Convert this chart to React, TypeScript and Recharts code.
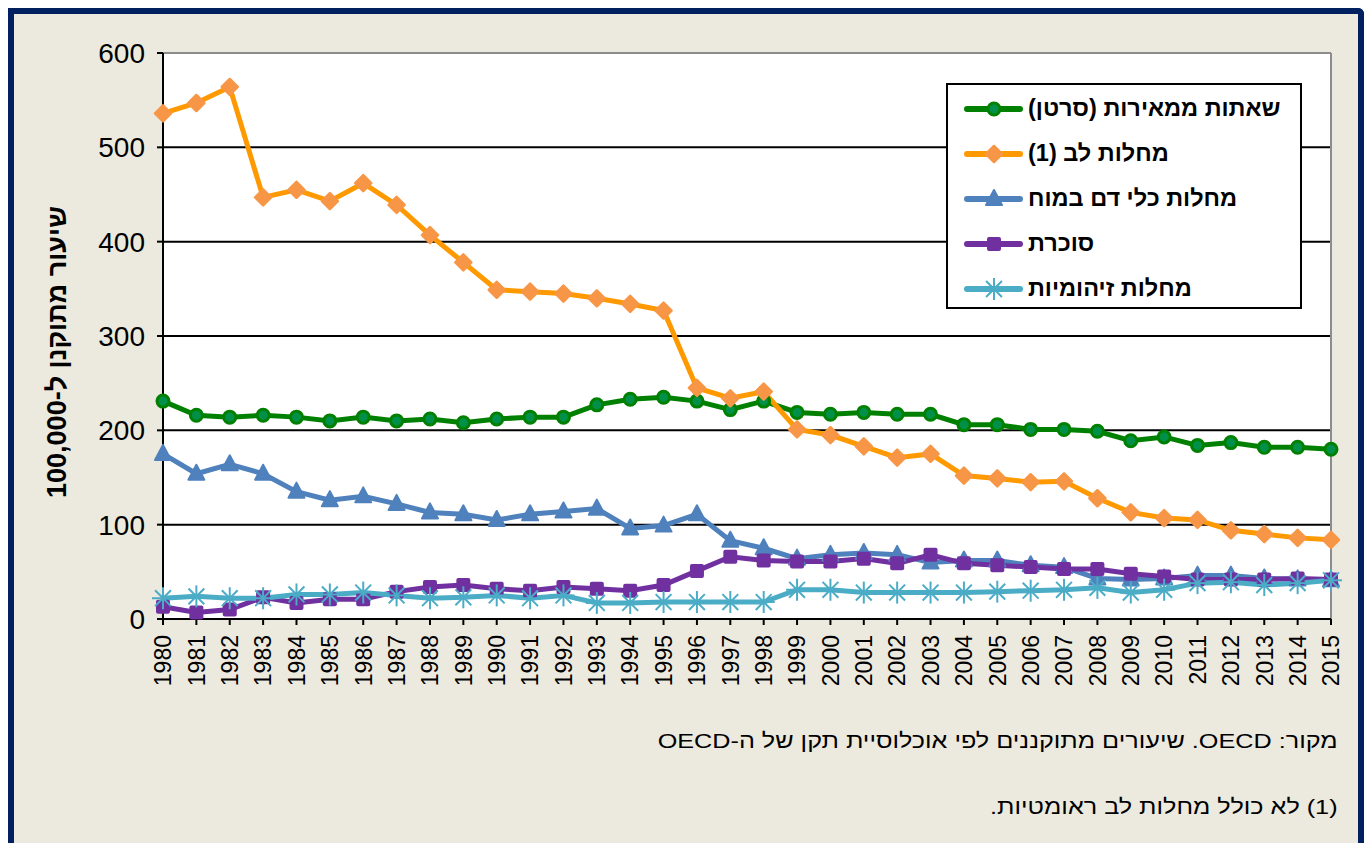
import React from "react";
import {
  LineChart, Line, XAxis, YAxis, CartesianGrid, Legend, ReferenceLine, Label,
} from "recharts";

const years = [
  "1980", "1981", "1982", "1983", "1984", "1985", "1986", "1987", "1988", "1989",
  "1990", "1991", "1992", "1993", "1994", "1995", "1996", "1997", "1998", "1999",
  "2000", "2001", "2002", "2003", "2004", "2005", "2006", "2007", "2008", "2009",
  "2010", "2011", "2012", "2013", "2014", "2015",
];

const cancer = [
  231, 216, 214, 216, 214, 210, 214, 210, 212, 208,
  212, 214, 214, 227, 233, 235, 231, 222, 231, 219,
  217, 219, 217, 217, 206, 206, 201, 201, 199, 189,
  193, 184, 187, 182, 182, 180,
];

const heart = [
  536, 547, 564, 447, 455, 443, 462, 439, 407, 378,
  349, 347, 345, 340, 334, 327, 245, 234, 241, 201,
  195, 183, 171, 175, 152, 149, 145, 146, 128, 113,
  107, 105, 94, 90, 86, 84,
];

const stroke = [
  175, 154, 164, 154, 135, 126, 130, 122, 113, 111,
  105, 111, 114, 117, 96, 99, 111, 83, 75, 64,
  68, 70, 68, 60, 62, 62, 57, 55, 43, 42,
  43, 46, 46, 43, 42, 41,
];

const diabetes = [
  13, 7, 10, 23, 17, 21, 21, 29, 34, 36,
  32, 30, 34, 32, 30, 36, 51, 66, 62, 61,
  61, 64, 59, 68, 59, 57, 55, 53, 53, 48,
  45, 42, 42, 42, 43, 42,
];

const infectious = [
  22, 24, 22, 22, 26, 26, 28, 25, 22, 23,
  25, 22, 25, 17, 17, 18, 18, 18, 18, 31,
  31, 28, 28, 28, 28, 29, 30, 31, 33, 28,
  31, 38, 39, 36, 38, 41,
];

const yTicks = [0, 100, 200, 300, 400, 500, 600];

const seriesNames = {
  cancer: "שאתות ממאירות (סרטן)",
  heart: "מחלות לב (1)",
  stroke: "מחלות כלי דם במוח",
  diabetes: "סוכרת",
  infectious: "מחלות זיהומיות",
};

const data = years.map((y, i) => ({
  year: y,
  cancer: cancer[i],
  heart: heart[i],
  stroke: stroke[i],
  diabetes: diabetes[i],
  infectious: infectious[i],
}));

const FONT = "Arial, 'Liberation Sans', sans-serif";

// marker shapes, drawn around (cx, cy)
function Circle({ cx, cy }: any) {
  return <circle cx={cx} cy={cy} r={6} fill="#00904A" stroke="#008000" strokeWidth={3} />;
}
function Diamond({ cx, cy }: any) {
  const s = 8;
  return (
    <polygon
      points={`${cx},${cy - s} ${cx + s},${cy} ${cx},${cy + s} ${cx - s},${cy}`}
      fill="#F79646" stroke="#F79646" strokeWidth={2.5} strokeLinejoin="round"
    />
  );
}
function Triangle({ cx, cy }: any) {
  return (
    <polygon
      points={`${cx},${cy - 9} ${cx + 8},${cy + 6} ${cx - 8},${cy + 6}`}
      fill="#4F81BD" stroke="#4F81BD" strokeWidth={2} strokeLinejoin="round"
    />
  );
}
function Square({ cx, cy }: any) {
  return <rect x={cx - 7} y={cy - 7} width={14} height={14} rx={2} fill="#7030A0" />;
}
function Star({ cx, cy }: any) {
  const r = 11;
  const d = r * 0.72;
  return (
    <g stroke="#4BACC6" strokeWidth={2}>
      <line x1={cx} y1={cy - r} x2={cx} y2={cy + r} />
      <line x1={cx - d} y1={cy - d} x2={cx + d} y2={cy + d} />
      <line x1={cx - d} y1={cy + d} x2={cx + d} y2={cy - d} />
      <line x1={cx - r} y1={cy} x2={cx + r} y2={cy} />
    </g>
  );
}

const dotFor = (Shape: any) => (props: any) => {
  const { cx, cy, index } = props;
  if (cx == null || cy == null) return <g key={`d-${index}`} />;
  return <Shape key={`d-${index}`} cx={cx} cy={cy} />;
};

const legendItems = [
  { key: "cancer", color: "#008000", Shape: Circle },
  { key: "heart", color: "#FF9900", Shape: Diamond },
  { key: "stroke", color: "#4F81BD", Shape: Triangle },
  { key: "diabetes", color: "#7030A0", Shape: Square },
  { key: "infectious", color: "#4BACC6", Shape: Star },
];

function LegendBox() {
  return (
    <div
      style={{
        width: 352,
        height: 221,
        border: "2px solid #000",
        background: "#fff",
        paddingTop: 1,
        fontFamily: FONT,
        boxSizing: "content-box",
      }}
    >
      {legendItems.map(({ key, color, Shape }) => (
        <div key={key} style={{ height: 45, display: "flex", alignItems: "center" }}>
          <svg width={80} height={30} style={{ flex: "none" }}>
            <line x1={19} y1={15} x2={72} y2={15} stroke={color} strokeWidth={6} strokeLinecap="round" />
            <Shape cx={46} cy={15} />
          </svg>
          <span dir="rtl" style={{ fontSize: 23.5, fontWeight: "bold", color: "#000", whiteSpace: "nowrap" }}>
            {(seriesNames as any)[key]}
          </span>
        </div>
      ))}
    </div>
  );
}

function XTick({ x, y, payload }: any) {
  return (
    <g transform={`translate(${x},${y})`}>
      <text
        transform="rotate(-90)"
        textAnchor="end"
        dy="0.36em"
        fontSize={23}
        fontFamily={FONT}
        fill="#000"
      >
        {payload.value}
      </text>
    </g>
  );
}

function YTitle({ viewBox }: any) {
  const cx = viewBox.x - 46;
  const cy = viewBox.y + viewBox.height / 2 + 16;
  return (
    <text
      x={cx}
      y={cy}
      transform={`rotate(-90, ${cx}, ${cy})`}
      textAnchor="middle"
      dominantBaseline="central"
      fontSize={27}
      fontWeight="bold"
      fontFamily={FONT}
      fill="#000"
      direction="rtl"
    >
      שיעור מתוקנן ל-100,000
    </text>
  );
}

const noteStyle: React.CSSProperties = {
  position: "absolute",
  right: 26,
  fontFamily: FONT,
  fontSize: 21,
  color: "#000",
  whiteSpace: "nowrap",
  transform: "scaleX(1.2)",
  transformOrigin: "right center",
};

export default function App() {
  return (
    <div style={{ position: "absolute", left: 0, top: 0, width: 1364, height: 843, overflow: "hidden", background: "#fff" }}>
      <div
        style={{
          position: "absolute",
          left: 8,
          top: 8,
          width: 1344,
          height: 860,
          border: "6px solid #002060",
          borderBottom: "none",
          borderTopRightRadius: 6,
          background: "#ECE9DF",
        }}
      />
      <div style={{ position: "absolute", left: 0, top: 0 }}>
        <LineChart
          width={1364}
          height={720}
          data={data}
          margin={{ top: 53, right: 33, left: 103, bottom: 31 }}
        >
          <CartesianGrid vertical={false} stroke="#000" strokeWidth={2} fill="#fff" />
          <XAxis
            dataKey="year"
            interval={0}
            height={70}
            tick={<XTick />}
            tickSize={6}
            tickMargin={10}
            axisLine={{ stroke: "#000", strokeWidth: 2 }}
            tickLine={{ stroke: "#000", strokeWidth: 2 }}
          />
          <YAxis
            domain={[0, 600]}
            ticks={yTicks}
            width={60}
            tickSize={6}
            tickMargin={12}
            tick={{ fontSize: 28, fill: "#000", fontFamily: FONT }}
            axisLine={{ stroke: "#000", strokeWidth: 2 }}
            tickLine={{ stroke: "#000", strokeWidth: 2 }}
          >
            <Label content={<YTitle />} />
          </YAxis>
          <ReferenceLine y={600} stroke="#8C8C8C" strokeWidth={2} />
          <ReferenceLine x="2015" stroke="#8C8C8C" strokeWidth={2} />
          <Line dataKey="cancer" name={seriesNames.cancer} stroke="#008000" strokeWidth={5}
            dot={dotFor(Circle)} activeDot={false} isAnimationActive={false} />
          <Line dataKey="heart" name={seriesNames.heart} stroke="#FF9900" strokeWidth={5}
            dot={dotFor(Diamond)} activeDot={false} isAnimationActive={false} />
          <Line dataKey="stroke" name={seriesNames.stroke} stroke="#4F81BD" strokeWidth={5}
            dot={dotFor(Triangle)} activeDot={false} isAnimationActive={false} />
          <Line dataKey="diabetes" name={seriesNames.diabetes} stroke="#7030A0" strokeWidth={5}
            dot={dotFor(Square)} activeDot={false} isAnimationActive={false} />
          <Line dataKey="infectious" name={seriesNames.infectious} stroke="#4BACC6" strokeWidth={5}
            dot={dotFor(Star)} activeDot={false} isAnimationActive={false} />
          <Legend
            layout="horizontal"
            verticalAlign="middle"
            align="center"
            content={<LegendBox />}
            wrapperStyle={{ left: 946, top: 83, width: 356, height: 225 }}
          />
        </LineChart>
      </div>
      <div dir="rtl" style={{ ...noteStyle, top: 729 }}>
        מקור: OECD. שיעורים מתוקננים לפי אוכלוסיית תקן של ה-OECD
      </div>
      <div dir="rtl" style={{ ...noteStyle, top: 795 }}>
        (1) לא כולל מחלות לב ראומטיות.
      </div>
    </div>
  );
}
